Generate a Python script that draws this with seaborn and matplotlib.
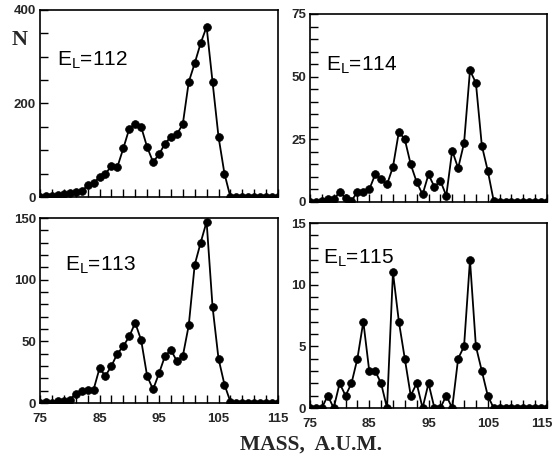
import matplotlib
matplotlib.use("Agg")
import matplotlib.pyplot as plt
import seaborn as sns
import numpy as np
from matplotlib.ticker import FixedLocator

sns.set_style("ticks")
plt.rcParams['font.family'] = ['Liberation Sans', 'DejaVu Sans']

mass = list(range(75, 116))

el112 = [0, 2, 3, 4, 6, 8, 10, 12, 25, 29,
         43, 50, 66, 64, 104, 146, 157, 150, 107, 75,
         91, 114, 129, 134, 156, 246, 286, 329, 364, 246,
         129, 50, 0, 0, 0, 0, 0, 0, 0, 0, 0]

el114 = [0, 0, 0.5, 1, 1, 4, 1.5, 0.5, 4, 4,
         5, 11, 9, 7, 14, 28, 25, 15, 8, 3,
         11, 6, 8.5, 2.5, 20.5, 13.5, 23.5, 52.5, 47.5, 22.5,
         12.5, 0.5, 0, 0, 0, 0, 0, 0, 0, 0, 0]

el113 = [0, 0.5, 0, 1.4, 1.4, 2.7, 7.3, 9.5, 10.3, 10.8,
         28, 22, 30, 40, 46, 54, 65, 51, 22, 11,
         24, 38, 43, 34, 38, 63, 112, 130, 147, 78,
         36, 15, 1, 0, 0, 0, 0, 0, 0, 0, 0]

el115 = [0, 0, 0, 1, 0, 2, 1, 2, 4, 7,
         3, 3, 2, 0, 11, 7, 4, 1, 2, 0,
         2, 0, 0, 1, 0, 4, 5, 12, 5, 3,
         1, 0, 0, 0, 0, 0, 0, 0, 0, 0, 0]

labels = ["112", "114", "113", "115"]
series = [el112, el114, el113, el115]
ymax = [400, 75, 150, 15]
ymajor = [[0, 200, 400], [0, 25, 50, 75], [0, 50, 100, 150], [0, 5, 10, 15]]
ystep = [50, 5, 10, 1]
xmajor = [75, 85, 95, 105, 115]

W, H = 553, 461
boxes = [(40, 10, 278, 197), (310, 14, 547, 202),
         (40, 218, 278, 403), (310, 223, 547, 408)]
label_pos = [(57, 60), (326, 65), (65, 265), (323, 258)]

fig = plt.figure(figsize=(W / 100, H / 100), dpi=100)
fig.patch.set_facecolor('white')

for i in range(4):
    l, t, r, b = boxes[i]
    ax = fig.add_axes([l / W, (H - b) / H, (r - l) / W, (b - t) / H])
    sns.lineplot(x=mass, y=series[i], ax=ax, color='black', marker='o',
                 markersize=5.6, linewidth=1.3, markeredgecolor='black',
                 markeredgewidth=0.5)
    ax.set_xlim(75, 115)
    ax.set_ylim(0, ymax[i])
    ax.xaxis.set_major_locator(FixedLocator(xmajor))
    ax.xaxis.set_minor_locator(FixedLocator(list(range(77, 115, 2))))
    ax.yaxis.set_major_locator(FixedLocator(ymajor[i]))
    ax.yaxis.set_minor_locator(FixedLocator(list(np.arange(0, ymax[i] + 0.001, ystep[i]))))
    ax.tick_params(which='both', direction='in', length=5.5, width=1.0,
                   top=False, right=False, color='black')
    ax.tick_params(axis='y', which='major', labelsize=9.5, pad=3)
    ax.tick_params(axis='x', which='major', labelsize=9.5, pad=7)
    for lab in ax.get_xticklabels() + ax.get_yticklabels():
        lab.set_fontweight('bold')
    if i < 2:
        ax.set_xticklabels([])
    if i == 3:
        xl = ax.get_xticklabels()
        xl[-1].set_horizontalalignment('right')
        xl[-1].set_x(115)
        import matplotlib.transforms as mtransforms
        xl[-1].set_transform(xl[-1].get_transform() +
                             mtransforms.ScaledTranslation(6 / 100, 0, fig.dpi_scale_trans))
    for s in ax.spines.values():
        s.set_visible(True)
        s.set_linewidth(1.2)
        s.set_color('black')
    ax.set_xlabel("")
    ax.set_ylabel("")
    ax.grid(False)
    lx, ly = label_pos[i]
    fig.text(lx / W, 1 - ly / H, r"E$_{\mathregular{L}}$=" + labels[i],
             fontsize=15, va='center', ha='left', color='black')

fig.text(12 / W, 1 - 40 / H, "N", fontsize=16, fontweight='bold',
         family=['Liberation Serif', 'DejaVu Serif'], ha='left', va='center')
fig.text(311 / W, 1 - 445 / H, "MASS,  A.U.M.", fontsize=15.5, fontweight='bold',
         family=['Liberation Serif', 'DejaVu Serif'], ha='center', va='center')

fig.savefig("out.png", dpi=100, facecolor='white')
